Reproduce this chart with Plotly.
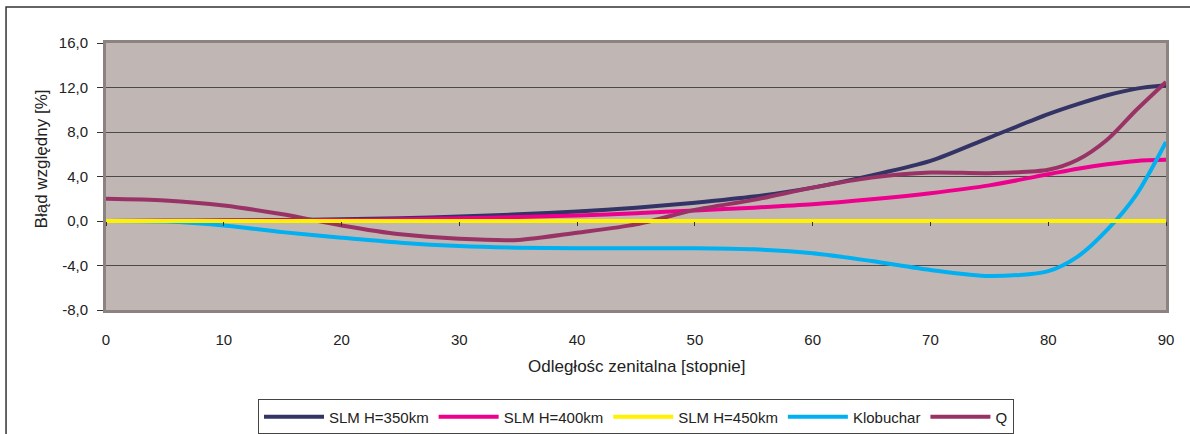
import plotly.graph_objects as go

# Zenith angle [degrees]
zenith = [0, 5, 10, 15, 20, 25, 30, 35, 40, 45, 50, 55, 60, 65, 70, 75, 80, 82.5, 85, 87.5, 90]

# Relative error [%] for each model
slm_350 = [0.0, 0.02, 0.05, 0.1, 0.15, 0.25, 0.4, 0.6, 0.85, 1.2, 1.65, 2.2, 3.0, 4.1, 5.4, 7.5, 9.6, 10.5, 11.3, 11.9, 12.2]
slm_400 = [0.0, 0.02, 0.04, 0.07, 0.1, 0.15, 0.25, 0.35, 0.5, 0.7, 0.95, 1.2, 1.5, 1.95, 2.5, 3.2, 4.2, 4.7, 5.1, 5.4, 5.5]
slm_450 = [0.0] * len(zenith)
klobuchar = [0.0, -0.05, -0.4, -1.0, -1.5, -1.95, -2.25, -2.4, -2.45, -2.45, -2.45, -2.55, -2.9, -3.6, -4.4, -4.95, -4.5, -3.2, -0.8, 2.4, 7.1]
q_model = [2.0, 1.85, 1.4, 0.6, -0.4, -1.2, -1.6, -1.7, -1.05, -0.3, 1.0, 1.9, 3.0, 3.9, 4.35, 4.3, 4.6, 5.5, 7.3, 10.0, 12.5]

# Axis ticks
y_ticks = [-8, -4, 0, 4, 8, 12, 16]
y_tick_labels = ["-8,0", "-4,0", "0,0", "4,0", "8,0", "12,0", "16,0"]
x_ticks = [0, 10, 20, 30, 40, 50, 60, 70, 80, 90]

series = [
    ("SLM H=350km", slm_350, "#333366"),
    ("SLM H=400km", slm_400, "#ec008c"),
    ("SLM H=450km", slm_450, "#fff200"),
    ("Klobuchar", klobuchar, "#00b0f0"),
    ("Q", q_model, "#993366"),
]

fig = go.Figure()
for name, vals, color in series:
    fig.add_trace(go.Scatter(
        x=zenith, y=vals, name=name, mode="lines",
        line=dict(color=color, width=4, shape="spline", smoothing=0.8),
        xaxis="x2" if name == "SLM H=450km" else "x",
    ))

base = "Liberation Sans, Arial, sans-serif"
tick_font = dict(family=base, size=15, color="#222222")
title_font = dict(family=base, size=17, color="#222222")
legend_font = dict(family=base, size=15, color="#222222")

fig.update_layout(
    width=1190, height=434,
    margin=dict(l=106, r=24, t=43, b=124, autoexpand=False),
    paper_bgcolor="white",
    plot_bgcolor="#c0b7b4",
    showlegend=True,
    legend=dict(
        orientation="h", x=0.5, xanchor="center", y=-0.335, yanchor="top",
        bordercolor="#444444", borderwidth=1, font=legend_font,
        itemwidth=60, tracegroupgap=0, valign="middle",
    ),
    xaxis=dict(
        range=[0, 90], tickvals=x_ticks, showgrid=False, zeroline=False,
        showline=True, mirror=True, linecolor="#8c8380", linewidth=3,
        ticks="", tickfont=tick_font, ticklabelstandoff=14,
    ),
    xaxis2=dict(
        range=[0, 90], tickvals=x_ticks, overlaying="x", anchor="free",
        position=1 / 3, showgrid=False, zeroline=False, showline=False,
        ticks="outside", ticklen=4, tickcolor="#333333", tickwidth=1,
        showticklabels=False, side="bottom",
    ),
    yaxis=dict(
        range=[-8, 16], tickvals=y_ticks, ticktext=y_tick_labels,
        showgrid=True, gridcolor="#4a4a4a", gridwidth=1, zeroline=False,
        showline=True, mirror=True, linecolor="#8c8380", linewidth=3,
        ticks="outside", ticklen=6, tickcolor="#333333", tickfont=tick_font,
        ticklabelstandoff=6,
    ),
    annotations=[
        dict(text="Błąd względny [%]", xref="paper", yref="paper",
             x=-0.0613, y=0.564, textangle=-90, showarrow=False,
             xanchor="center", yanchor="middle", font=title_font),
        dict(text="Odległośc zenitalna [stopnie]", xref="paper", yref="paper",
             x=0.5, y=-0.2105, showarrow=False,
             xanchor="center", yanchor="middle", font=title_font),
    ],
    shapes=[
        dict(type="rect", xref="paper", yref="paper",
             x0=-0.0943, x1=1.2, y0=-0.6, y1=1.135,
             line=dict(color="#333333", width=1.5), layer="below"),
    ],
)

fig.write_html("out.html")
